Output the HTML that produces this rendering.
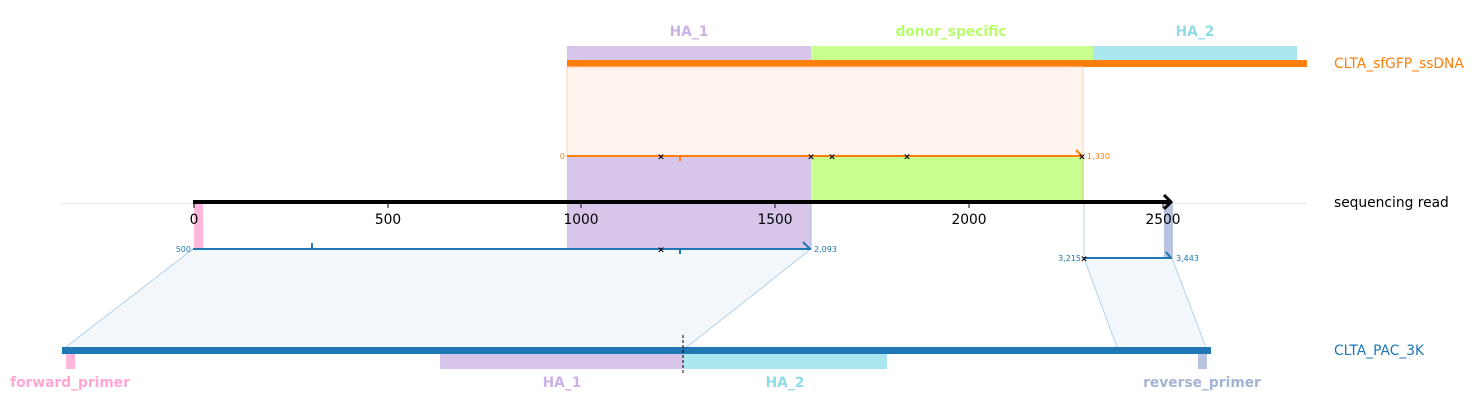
<!DOCTYPE html>
<html><head><meta charset="utf-8"><style>
html,body{margin:0;padding:0;background:#fff;}
svg{display:block;font-family:"DejaVu Sans","Liberation Sans",sans-serif;}
</style></head><body>
<svg width="1477" height="415" viewBox="0 0 1477 415" xmlns="http://www.w3.org/2000/svg">
<rect x="567" y="46" width="244" height="14" fill="#d8c6ea"/>
<rect x="811" y="46" width="282" height="14" fill="#c9ff8f"/>
<rect x="1093" y="46" width="204" height="14" fill="#a9e6ee"/>
<text x="689" y="36" font-size="13.8" font-weight="bold" fill="#c9b3e6" text-anchor="middle">HA_1</text>
<text x="951" y="36" font-size="13.8" font-weight="bold" fill="#b7ff6a" text-anchor="middle">donor_specific</text>
<text x="1195" y="36" font-size="13.8" font-weight="bold" fill="#8fdce6" text-anchor="middle">HA_2</text>
<rect x="567" y="60" width="740" height="7" fill="#ff7f0e"/>
<text x="1334" y="68" font-size="13.8" fill="#ff7f0e">CLTA_sfGFP_ssDNA</text>
<rect x="567" y="67" width="516" height="89" fill="#fff5ee" stroke="#ffd2b0" stroke-width="1"/>
<rect x="567" y="157" width="244" height="45" fill="#d8c6ea"/>
<rect x="811" y="157" width="272" height="45" fill="#c9ff8f"/>
<rect x="567" y="203" width="244" height="46" fill="#d8c6ea"/>
<line x1="811" y1="203" x2="811" y2="249" stroke="#9fbfe0" stroke-width="1"/>
<line x1="1083" y1="157" x2="1083" y2="202" stroke="#d9c08a" stroke-width="1"/>
<line x1="1084" y1="203" x2="1084" y2="258" stroke="#b7d4ea" stroke-width="1"/>
<line x1="567" y1="156" x2="1083" y2="156" stroke="#ff7f0e" stroke-width="2"/>
<text x="565" y="159" font-size="8" fill="#ff7f0e" text-anchor="end">0</text>
<text x="1087" y="159" font-size="8" fill="#ff7f0e">1,330</text>
<path d="M1076 150 L1082 156" stroke="#ff7f0e" stroke-width="2"/>
<rect x="679" y="156" width="2" height="5" fill="#ff7f0e"/>
<g font-size="9" fill="#000" text-anchor="middle" font-weight="bold">
<text x="661" y="159.5">×</text><text x="811" y="159.5">×</text><text x="832" y="159.5">×</text><text x="907" y="159.5">×</text><text x="1082" y="159.5">×</text>
</g>
<line x1="62" y1="203.5" x2="1307" y2="203.5" stroke="#e4e4e4" stroke-width="1"/>
<rect x="194" y="204" width="9" height="45" fill="#ffb8dc"/>
<rect x="1164" y="204" width="9" height="54" fill="#b8c4df"/>
<rect x="193" y="200" width="976" height="4" fill="#000"/>
<path d="M1164 195 L1171 202 L1164 209" stroke="#000" stroke-width="3" fill="none"/>
<g stroke="#000" stroke-width="1">
<line x1="194" y1="204" x2="194" y2="208"/><line x1="388" y1="204" x2="388" y2="208"/><line x1="581" y1="204" x2="581" y2="208"/><line x1="775" y1="204" x2="775" y2="208"/><line x1="969" y1="204" x2="969" y2="208"/><line x1="1163" y1="204" x2="1163" y2="208"/>
</g>
<g font-size="13.8" fill="#000" text-anchor="middle">
<text x="194" y="224">0</text><text x="388" y="224">500</text><text x="581" y="224">1000</text><text x="775" y="224">1500</text><text x="969" y="224">2000</text><text x="1163" y="224">2500</text>
</g>
<text x="1334" y="207" font-size="13.8" fill="#000">sequencing read</text>
<polygon points="193,249 811,249 683,350 62,350" fill="#f1f7fa" stroke="#b3d1e8" stroke-width="1"/>
<polygon points="1084,258 1172,258 1207,350 1118,350" fill="#f1f7fa" stroke="#b3d1e8" stroke-width="1"/>
<line x1="193" y1="249" x2="811" y2="249" stroke="#1f77b4" stroke-width="2"/>
<rect x="311" y="243" width="2" height="6" fill="#1f77b4"/>
<rect x="679" y="249" width="2" height="5" fill="#1f77b4"/>
<path d="M803 242 L810 249" stroke="#1f77b4" stroke-width="2"/>
<text x="191" y="252" font-size="8" fill="#1f77b4" text-anchor="end">500</text>
<text x="814" y="252" font-size="8" fill="#1f77b4">2,093</text>
<text x="661" y="252.5" font-size="9" font-weight="bold" fill="#000" text-anchor="middle">×</text>
<line x1="1084" y1="258" x2="1172" y2="258" stroke="#1f77b4" stroke-width="2"/>
<path d="M1166 252 L1171 258" stroke="#1f77b4" stroke-width="2"/>
<text x="1081" y="261" font-size="8" fill="#1f77b4" text-anchor="end">3,215</text>
<text x="1176" y="261" font-size="8" fill="#1f77b4">3,443</text>
<text x="1084" y="261.5" font-size="9" font-weight="bold" fill="#000" text-anchor="middle">×</text>
<rect x="62" y="347" width="1149" height="7" fill="#1f77b4"/>
<rect x="66" y="354" width="9" height="15" fill="#ffb8dc"/>
<rect x="440" y="354" width="243" height="15" fill="#d8c6ea"/>
<rect x="683" y="354" width="204" height="15" fill="#a9e6ee"/>
<rect x="1198" y="354" width="9" height="15" fill="#b8c4df"/>
<line x1="683" y1="335" x2="683" y2="374" stroke="#000" stroke-width="1" stroke-dasharray="3,2"/>
<text x="1334" y="355" font-size="13.8" fill="#1f77b4">CLTA_PAC_3K</text>
<g font-size="13.8" font-weight="bold" text-anchor="middle">
<text x="70" y="387" fill="#ffa6d4">forward_primer</text>
<text x="562" y="387" fill="#c9b3e6">HA_1</text>
<text x="785" y="387" fill="#8fdce6">HA_2</text>
<text x="1202" y="387" fill="#a3b3d6">reverse_primer</text>
</g>
</svg>
</body></html>
